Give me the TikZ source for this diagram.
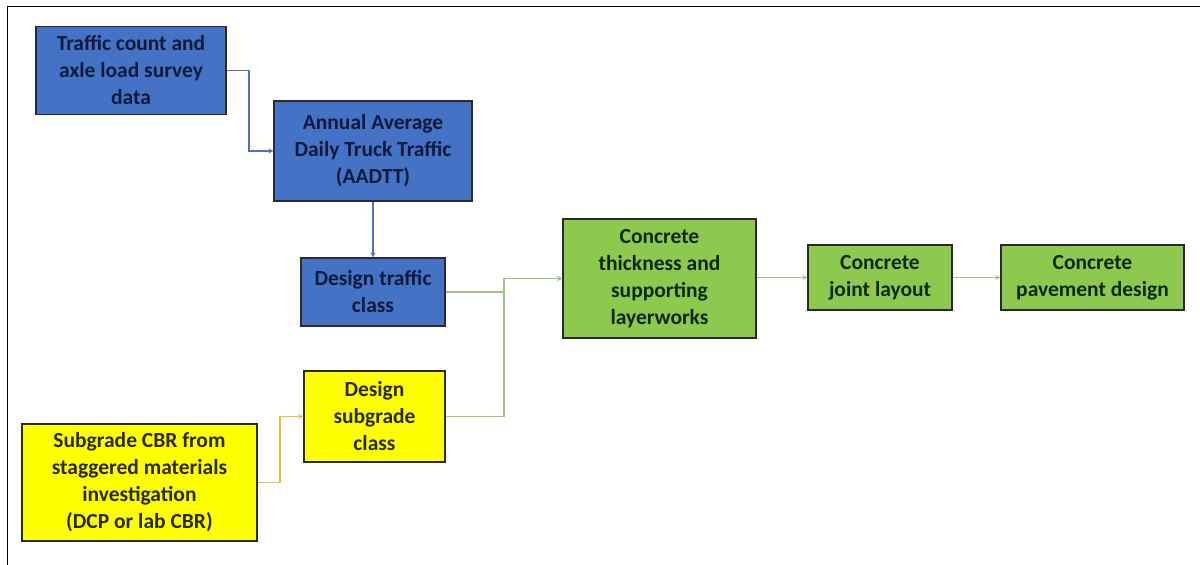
\documentclass[tikz,border=0pt]{standalone}
\usepackage{fontspec}
\setmainfont{Carlito}
\usetikzlibrary{arrows.meta}
\definecolor{bfill}{HTML}{4472C4}
\definecolor{btext}{HTML}{101A3C}
\definecolor{gfill}{HTML}{8CC94E}
\definecolor{gtext}{HTML}{10280A}
\definecolor{yfill}{HTML}{FFFF00}
\definecolor{ytext}{HTML}{2A2A00}
\definecolor{bline}{HTML}{5470C0}
\definecolor{gline}{HTML}{9CC77A}
\definecolor{yline}{HTML}{EDC03A}
\definecolor{edge}{HTML}{2A2A2A}
\begin{document}
\begin{tikzpicture}[x=1pt,y=-1pt,
  box/.style={rectangle, draw=edge, line width=1.3pt, align=center, inner sep=2pt,
    font=\fontsize{21.5}{27}\selectfont\bfseries},
  bluebox/.style={box, fill=bfill, text=btext},
  greenbox/.style={box, fill=gfill, text=gtext},
  yellowbox/.style={box, fill=yfill, text=ytext},
  conn/.style={line width=1.8pt, -{Stealth[length=5pt,width=5pt]}},
  bconn/.style={conn, draw=bline},
  gconn/.style={conn, draw=gline},
  yconn/.style={conn, draw=yline}]
\useasboundingbox (0,0) rectangle (1200,565);
\draw[black, line width=1pt] (7,565) -- (7,6) -- (1200,6);
\node[bluebox, minimum width=190pt, minimum height=88pt] (traffic) at (131,70.5) {Traffic count and\\axle load survey\\data};
\node[bluebox, minimum width=198pt, minimum height=100pt] (aadtt) at (373,151) {Annual Average\\Daily Truck Traffic\\(AADTT)};
\node[bluebox, minimum width=144pt, minimum height=68pt] (dtc) at (373,292) {Design traffic\\class};
\node[yellowbox, minimum width=235pt, minimum height=117pt] (cbr) at (139.5,482.5) {Subgrade CBR from\\staggered materials\\investigation\\(DCP or lab CBR)};
\node[yellowbox, minimum width=141pt, minimum height=91pt] (dsc) at (374.5,416.5) {Design\\subgrade\\class};
\node[greenbox, minimum width=193pt, minimum height=119pt] (thick) at (659.5,278.5) {Concrete\\thickness and\\supporting\\layerworks};
\node[greenbox, minimum width=144pt, minimum height=65pt] (joint) at (880,277.5) {Concrete\\joint layout};
\node[greenbox, minimum width=183pt, minimum height=65pt] (pave) at (1092.5,277.5) {Concrete\\pavement design};
\coordinate (j0) at (249,0);
\coordinate (j1) at (504,0);
\coordinate (j2) at (280,0);
\draw[bconn] (traffic.east) -- (traffic.east -| j0) |- (aadtt.west);
\draw[bconn] (aadtt.south) -- (dtc.north);
\draw[gconn] (dtc.east) -- (dtc.east -| j1) |- (thick.west);
\draw[gconn] (dsc.east) -- (dsc.east -| j1) |- (thick.west);
\draw[yconn] (cbr.east) -- (cbr.east -| j2) |- (dsc.west);
\draw[gconn] (thick.east |- joint.west) -- (joint.west);
\draw[gconn] (joint.east) -- (pave.west);
\end{tikzpicture}
\end{document}
